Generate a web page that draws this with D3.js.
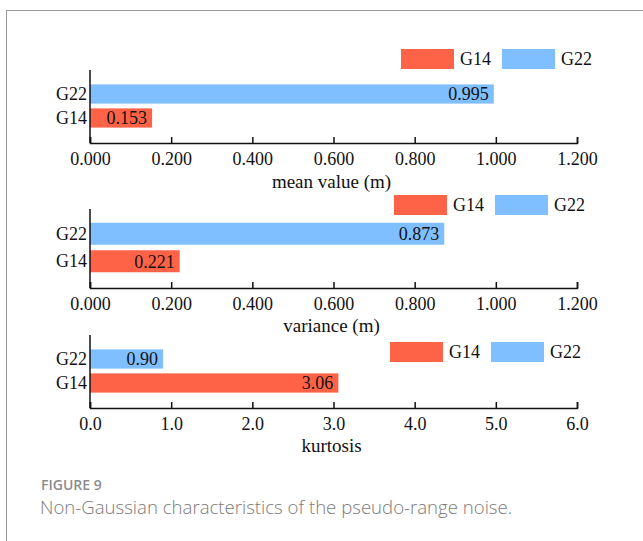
<!DOCTYPE html>
<html>
<head>
<meta charset="utf-8">
<script src="https://cdn.jsdelivr.net/npm/d3@7"></script>
<style>
  html, body { margin: 0; padding: 0; background: #fff; }
  svg { display: block; }
  .serif { font-family: "Liberation Serif", "Times New Roman", serif; fill: #111; }
</style>
</head>
<body>
<svg id="chart" width="643" height="541"></svg>
<script>
// data
const series = ['G14', 'G22'];
const categories = ['G22', 'G14'];
const meanValues = { G14: 0.153, G22: 0.995 };
const varianceValues = { G14: 0.221, G22: 0.873 };
const kurtosisValues = { G14: 3.06, G22: 0.90 };
const meanTicks = [0, 0.2, 0.4, 0.6, 0.8, 1.0, 1.2];
const varianceTicks = [0, 0.2, 0.4, 0.6, 0.8, 1.0, 1.2];
const kurtosisTicks = [0, 1, 2, 3, 4, 5, 6];

const COLORS = { G14: '#ff6347', G22: '#80bfff' };
const X0 = 90, X1 = 577;

const panels = [
  { values: meanValues, ticks: meanTicks, fmt: '.3f', tickFmt: '.3f', title: 'mean value (m)',
    top: 70, band: [82, 130], axisY: 143, titleY: 181, legendX: 401, legendY: 49 },
  { values: varianceValues, ticks: varianceTicks, fmt: '.3f', tickFmt: '.3f', title: 'variance (m)',
    top: 209, band: [220, 275], axisY: 288, titleY: 325, legendX: 394, legendY: 195 },
  { values: kurtosisValues, ticks: kurtosisTicks, fmt: '.2f', tickFmt: '.1f', title: 'kurtosis',
    top: 335, band: [347, 395], axisY: 408, titleY: 445, legendX: 390, legendY: 342 }
];

const svg = d3.select('#chart');

// card border (top and left visible)
svg.append('rect')
  .attr('x', 6.5).attr('y', 10.5)
  .attr('width', 800).attr('height', 700)
  .attr('fill', 'none').attr('stroke', '#9a9a9a').attr('stroke-width', 1);

panels.forEach((p) => {
  const g = svg.append('g');
  const x = d3.scaleLinear().domain([p.ticks[0], p.ticks[p.ticks.length - 1]]).range([X0, X1]);
  const y = d3.scaleBand().domain(categories).range(p.band).paddingInner(0.2).paddingOuter(0.1);

  // bars
  g.selectAll('rect.bar')
    .data(categories)
    .join('rect')
    .attr('class', 'bar')
    .attr('x', x(0))
    .attr('y', (d) => y(d))
    .attr('width', (d) => x(p.values[d]) - x(0))
    .attr('height', y.bandwidth())
    .attr('fill', (d) => COLORS[d]);

  // value labels
  g.selectAll('text.val')
    .data(categories)
    .join('text')
    .attr('class', 'val serif')
    .attr('x', (d) => x(p.values[d]) - 5)
    .attr('y', (d) => y(d) + y.bandwidth() / 2)
    .attr('dy', '0.36em')
    .attr('text-anchor', 'end')
    .style('font-size', '18px')
    .text((d) => d3.format(p.fmt)(p.values[d]));

  // x axis
  const xAxis = g.append('g')
    .attr('transform', `translate(0,${p.axisY})`)
    .call(d3.axisBottom(x).tickValues(p.ticks).tickFormat(d3.format(p.tickFmt))
      .tickSizeInner(-6).tickSizeOuter(-6).tickPadding(9));
  xAxis.selectAll('path,line').attr('stroke', '#111').attr('stroke-width', 1.5);
  xAxis.selectAll('text').attr('class', 'serif').style('font-size', '18px').attr('fill', '#111');

  // y axis line
  g.append('line')
    .attr('x1', X0).attr('x2', X0)
    .attr('y1', p.top).attr('y2', p.axisY)
    .attr('stroke', '#111').attr('stroke-width', 1.5);
  const yAxis = g.append('g')
    .attr('transform', `translate(${X0},0)`)
    .call(d3.axisLeft(y).tickSize(0).tickPadding(3));
  yAxis.select('.domain').remove();
  yAxis.selectAll('text').attr('class', 'serif').style('font-size', '18px').attr('fill', '#111');

  // axis title
  g.append('text')
    .attr('class', 'serif')
    .attr('x', (X0 + X1) / 2 - 2)
    .attr('y', p.titleY)
    .attr('dy', '0.36em')
    .attr('text-anchor', 'middle')
    .style('font-size', '19px')
    .text(p.title);

  // legend
  const leg = g.append('g').attr('transform', `translate(${p.legendX},${p.legendY})`);
  series.forEach((s, i) => {
    const lx = i * 101;
    leg.append('rect').attr('x', lx).attr('y', 0).attr('width', 53).attr('height', 20).attr('fill', COLORS[s]);
    leg.append('text').attr('class', 'serif')
      .attr('x', lx + 59).attr('y', 10).attr('dy', '0.36em')
      .style('font-size', '18px')
      .text(s);
  });
});

// caption
svg.append('text')
  .attr('x', 41).attr('y', 490)
  .style('font-family', '"Open Sans", sans-serif')
  .style('font-size', '14px')
  .style('font-weight', 600)
  .attr('fill', '#8c8c8c')
  .text('FIGURE 9');
svg.append('text')
  .attr('x', 40).attr('y', 514)
  .style('font-family', '"Open Sans", sans-serif')
  .style('font-size', '18.6px')
  .style('font-weight', 300)
  .attr('fill', '#7a7a7a')
  .text('Non-Gaussian characteristics of the pseudo-range noise.');
</script>
</body>
</html>
